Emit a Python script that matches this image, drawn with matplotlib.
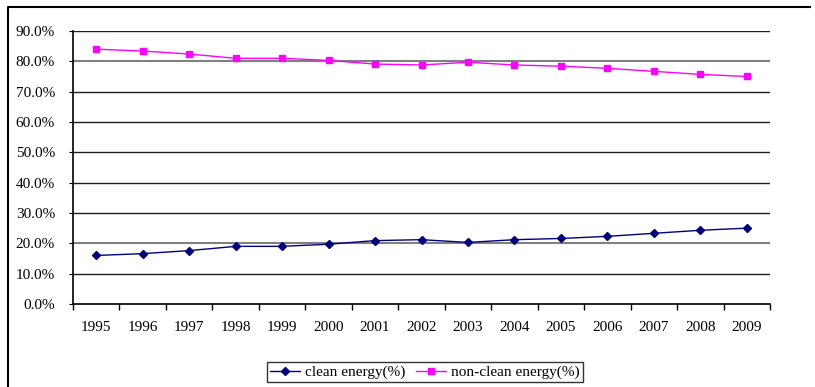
import numpy as np
import matplotlib.pyplot as plt
from matplotlib.lines import Line2D
from matplotlib.ticker import FixedLocator, NullFormatter

plt.rcParams['font.family'] = ['Liberation Serif', 'DejaVu Serif']

years = ['1995', '1996', '1997', '1998', '1999', '2000', '2001', '2002',
         '2003', '2004', '2005', '2006', '2007', '2008', '2009']
clean = [16.0, 16.6, 17.6, 19.0, 19.0, 19.7, 20.9, 21.2, 20.3, 21.2,
         21.6, 22.3, 23.3, 24.3, 25.0]
non_clean = [84.0, 83.4, 82.4, 81.0, 81.0, 80.3, 79.1, 78.8, 79.7, 78.8,
             78.4, 77.7, 76.7, 75.7, 75.0]
y_ticks = [0, 10, 20, 30, 40, 50, 60, 70, 80, 90]

fig = plt.figure(figsize=(8.15, 3.87), dpi=100)
ax = fig.add_axes([0.0896, 0.2145, 0.8552, 0.7054])

x = np.arange(len(years))

# gridlines
for v in y_ticks[1:]:
    if v in (20, 80):
        ax.axhline(v, color='#808080', lw=1.5, zorder=1)
    else:
        ax.axhline(v, color='#202020', lw=1.0, zorder=1)

ax.plot(x, clean, color='#000080', marker='D', markersize=4.5, lw=1.0,
        label='clean energy(%)', zorder=3)
ax.plot(x, non_clean, color='#FF00FF', marker='s', markersize=5, lw=1.0,
        label='non-clean energy(%)', zorder=3)

ax.set_xlim(-0.5, len(years) - 0.5)
ax.set_ylim(0, 90)

for s in ['top', 'right']:
    ax.spines[s].set_visible(False)
ax.spines['left'].set_linewidth(1.2)
ax.spines['bottom'].set_linewidth(1.2)

ax.xaxis.set_major_locator(FixedLocator(np.arange(-0.5, len(years), 1.0)))
ax.xaxis.set_major_formatter(NullFormatter())
ax.xaxis.set_minor_locator(FixedLocator(x))
ax.set_xticklabels(years, minor=True)
ax.tick_params(axis='x', which='major', direction='out', length=4, width=1)
ax.tick_params(axis='x', which='minor', length=0, pad=12, labelsize=11)

ax.set_yticks(y_ticks)
ax.set_yticklabels(['%.1f%%' % v for v in y_ticks])
ax.tick_params(axis='y', length=3, direction='out', pad=10, labelsize=11)

leg = fig.legend(loc='center', bbox_to_anchor=(0.521, 0.0375), ncol=2,
                 fontsize=11, frameon=True, fancybox=False, shadow=False,
                 handlelength=2.0, columnspacing=0.7, handletextpad=0.3,
                 borderpad=0.2, borderaxespad=0)
leg.get_frame().set_edgecolor('black')
leg.get_frame().set_linewidth(1.0)

# outer chart frame
fx = 8 / 815
fy = 1 - 7 / 387
fig.add_artist(Line2D([fx, fx, 810 / 815], [0, fy, fy], color='black', lw=1.5,
                      transform=fig.transFigure))

fig.savefig('out.png', dpi=100)
